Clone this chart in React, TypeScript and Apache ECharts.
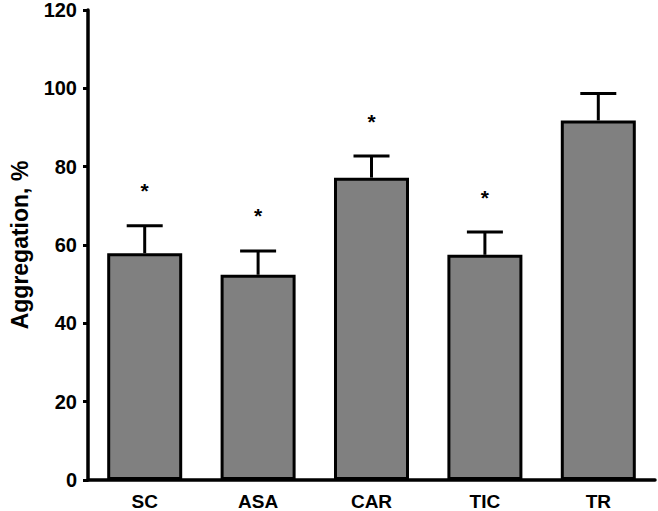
import React, { useEffect, useRef } from "react";
import * as echarts from "echarts";

const categories = ["SC", "ASA", "CAR", "TIC", "TR"];
const means = [57.9, 52.4, 77.2, 57.5, 91.8];
const errUpper = [64.9, 58.5, 82.7, 63.3, 98.7];
const significant = [true, true, true, true, false];
const yTicks = [0, 20, 40, 60, 80, 100, 120];

const FONT = "'Liberation Sans', Arial, Helvetica, sans-serif";

export default function App() {
  const ref = useRef<HTMLDivElement>(null);

  useEffect(() => {
    document.body.style.margin = "0";
    if (!ref.current) return;
    const chart = echarts.init(ref.current, null, { renderer: "svg" });

    const errData = categories.map((c, i) => [i, means[i], errUpper[i], significant[i] ? 1 : 0]);

    chart.setOption({
      animation: false,
      backgroundColor: "#ffffff",
      grid: { left: 83, right: 3, top: 7, bottom: 29, containLabel: false },
      xAxis: {
        type: "category",
        data: categories,
        axisLine: { show: true, lineStyle: { color: "#000", width: 3.5 } },
        axisTick: { show: false },
        axisLabel: {
          color: "#000",
          fontFamily: FONT,
          fontWeight: "bold",
          fontSize: 19,
          margin: 12,
        },
      },
      yAxis: {
        type: "value",
        min: yTicks[0],
        max: yTicks[yTicks.length - 1],
        interval: 20,
        name: "Aggregation, %",
        nameLocation: "middle",
        nameGap: 57,
        nameRotate: 90,
        nameTextStyle: {
          color: "#000",
          fontFamily: FONT,
          fontWeight: "bold",
          fontSize: 23,
        },
        axisLine: { show: true, lineStyle: { color: "#000", width: 3.5 } },
        axisTick: { show: true, length: 5, lineStyle: { color: "#000", width: 3 } },
        splitLine: { show: false },
        axisLabel: {
          color: "#000",
          fontFamily: FONT,
          fontWeight: "bold",
          fontSize: 20,
          margin: 11,
        },
      },
      series: [
        {
          type: "bar",
          data: means,
          barWidth: 75,
          itemStyle: { color: "#808080", borderColor: "#000", borderWidth: 3 },
          z: 2,
        },
        {
          type: "custom",
          data: errData,
          z: 3,
          renderItem: (params: any, api: any) => {
            const x = api.value(0);
            const base = api.coord([x, api.value(1)]);
            const top = api.coord([x, api.value(2)]);
            const half = 18;
            const children: any[] = [
              {
                type: "line",
                shape: { x1: base[0], y1: base[1], x2: top[0], y2: top[1] },
                style: { stroke: "#000", lineWidth: 3 },
              },
              {
                type: "line",
                shape: { x1: top[0] - half, y1: top[1], x2: top[0] + half, y2: top[1] },
                style: { stroke: "#000", lineWidth: 3 },
              },
            ];
            if (api.value(3) === 1) {
              children.push({
                type: "text",
                x: top[0],
                y: top[1] - 35,
                style: {
                  text: "*",
                  fill: "#000",
                  font: `bold 21px ${FONT}`,
                  align: "center",
                  verticalAlign: "middle",
                },
              });
            }
            return { type: "group", children };
          },
        },
      ],
    });

    return () => chart.dispose();
  }, []);

  return (
    <div
      ref={ref}
      style={{ position: "absolute", left: 0, top: 0, width: 658, height: 511 }}
    />
  );
}
